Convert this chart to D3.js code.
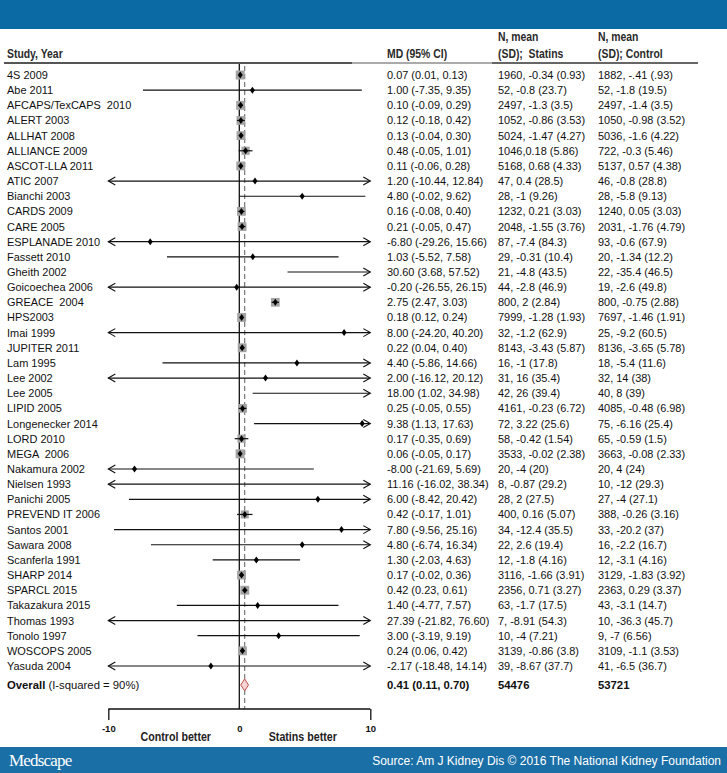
<!DOCTYPE html>
<html><head><meta charset="utf-8">
<script src="https://cdn.jsdelivr.net/npm/d3@7"></script>
<style>body{margin:0;background:#fff}text{white-space:pre}</style>
</head><body><svg id="c" width="727" height="773"></svg>
<script>
const studies = ["4S 2009","Abe 2011","AFCAPS/TexCAPS  2010","ALERT 2003","ALLHAT 2008","ALLIANCE 2009","ASCOT-LLA 2011","ATIC 2007","Bianchi 2003","CARDS 2009","CARE 2005","ESPLANADE 2010","Fassett 2010","Gheith 2002","Goicoechea 2006","GREACE  2004","HPS2003","Imai 1999","JUPITER 2011","Lam 1995","Lee 2002","Lee 2005","LIPID 2005","Longenecker 2014","LORD 2010","MEGA  2006","Nakamura 2002","Nielsen 1993","Panichi 2005","PREVEND IT 2006","Santos 2001","Sawara 2008","Scanferla 1991","SHARP 2014","SPARCL 2015","Takazakura 2015","Thomas 1993","Tonolo 1997","WOSCOPS 2005","Yasuda 2004"];
const md = [0.07,1.00,0.10,0.12,0.13,0.48,0.11,1.20,4.80,0.16,0.21,-6.80,1.03,30.60,-0.20,2.75,0.18,8.00,0.22,4.40,2.00,18.00,0.25,9.38,0.17,0.06,-8.00,11.16,6.00,0.42,7.80,4.80,1.30,0.17,0.42,1.40,27.39,3.00,0.24,-2.17];
const lo = [0.01,-7.35,-0.09,-0.18,-0.04,-0.05,-0.06,-10.44,-0.02,-0.08,-0.05,-29.26,-5.52,3.68,-26.55,2.47,0.12,-24.20,0.04,-5.86,-16.12,1.02,-0.05,1.13,-0.35,-0.05,-21.69,-16.02,-8.42,-0.17,-9.56,-6.74,-2.03,-0.02,0.23,-4.77,-21.82,-3.19,0.06,-18.48];
const hi = [0.13,9.35,0.29,0.42,0.30,1.01,0.28,12.84,9.62,0.40,0.47,15.66,7.58,57.52,26.15,3.03,0.24,40.20,0.40,14.66,20.12,34.98,0.55,17.63,0.69,0.17,5.69,38.34,20.42,1.01,25.16,16.34,4.63,0.36,0.61,7.57,76.60,9.19,0.42,14.14];
const statins = ["1960, -0.34 (0.93)","52, -0.8 (23.7)","2497, -1.3 (3.5)","1052, -0.86 (3.53)","5024, -1.47 (4.27)","1046,0.18 (5.86)","5168, 0.68 (4.33)","47, 0.4 (28.5)","28, -1 (9.26)","1232, 0.21 (3.03)","2048, -1.55 (3.76)","87, -7.4 (84.3)","29, -0.31 (10.4)","21, -4.8 (43.5)","44, -2.8 (46.9)","800, 2 (2.84)","7999, -1.28 (1.93)","32, -1.2 (62.9)","8143, -3.43 (5.87)","16, -1 (17.8)","31, 16 (35.4)","42, 26 (39.4)","4161, -0.23 (6.72)","72, 3.22 (25.6)","58, -0.42 (1.54)","3533, -0.02 (2.38)","20, -4 (20)","8, -0.87 (29.2)","28, 2 (27.5)","400, 0.16 (5.07)","34, -12.4 (35.5)","22, 2.6 (19.4)","12, -1.8 (4.16)","3116, -1.66 (3.91)","2356, 0.71 (3.27)","63, -1.7 (17.5)","7, -8.91 (54.3)","10, -4 (7.21)","3139, -0.86 (3.8)","39, -8.67 (37.7)"];
const control = ["1882, -.41 (.93)","52, -1.8 (19.5)","2497, -1.4 (3.5)","1050, -0.98 (3.52)","5036, -1.6 (4.22)","722, -0.3 (5.46)","5137, 0.57 (4.38)","46, -0.8 (28.8)","28, -5.8 (9.13)","1240, 0.05 (3.03)","2031, -1.76 (4.79)","93, -0.6 (67.9)","20, -1.34 (12.2)","22, -35.4 (46.5)","19, -2.6 (49.8)","800, -0.75 (2.88)","7697, -1.46 (1.91)","25, -9.2 (60.5)","8136, -3.65 (5.78)","18, -5.4 (11.6)","32, 14 (38)","40, 8 (39)","4085, -0.48 (6.98)","75, -6.16 (25.4)","65, -0.59 (1.5)","3663, -0.08 (2.33)","20, 4 (24)","10, -12 (29.3)","27, -4 (27.1)","388, -0.26 (3.16)","33, -20.2 (37)","16, -2.2 (16.7)","12, -3.1 (4.16)","3129, -1.83 (3.92)","2363, 0.29 (3.37)","43, -3.1 (14.7)","10, -36.3 (45.7)","9, -7 (6.56)","3109, -1.1 (3.53)","41, -6.5 (36.7)"];
const weights = [5.9,0.04,5.8,5.6,5.8,4.9,5.8,0.02,0.11,5.7,5.7,0.005,0.2,0.003,0.004,5.6,5.9,0.002,5.8,0.08,0.008,0.01,5.6,0.04,4.9,5.9,0.05,0.003,0.05,4.7,0.03,0.07,0.8,5.8,5.8,0.25,0.0003,0.27,5.8,0.01];
const overall = {label:"Overall", het:" (I-squared = 90%)", md:0.41, lo:0.11, hi:0.70, nStat:"54476", nCtrl:"53721"};
const axisTicks = [-10, 0, 10];
const axisLabels = ["Control better", "Statins better"];

const svg = d3.select("#c");
const FONT = "'Liberation Sans', Arial, sans-serif";
const NARROW = "'Liberation Sans Narrow', 'Arial Narrow', 'Liberation Sans', sans-serif";

// condense text horizontally (narrow bold look)
function condense(sel, f) {
  sel.each(function() {
    const w = this.getComputedTextLength();
    d3.select(this).attr("textLength", w * f).attr("lengthAdjust", "spacingAndGlyphs");
  });
  return sel;
}

// banners
svg.append("rect").attr("x",0).attr("y",0).attr("width",727).attr("height",29).attr("fill","#0b69a4");
svg.append("rect").attr("x",0).attr("y",747).attr("width",727).attr("height",26).attr("fill","#1b6fa7");
svg.append("text").attr("x",9).attr("y",766).attr("fill","#fff").attr("font-family","'Liberation Serif', serif").attr("font-size",17).attr("letter-spacing",-0.8).text("Medscape");
svg.append("text").attr("x",721).attr("y",765).attr("text-anchor","end").attr("fill","#fff").attr("font-family",FONT).attr("font-size",12).text("Source: Am J Kidney Dis \u00A9 2016 The National Kidney Foundation");

const x = d3.scaleLinear().domain([-10, 10]).range([108.3, 370.3]);
const y = d3.scaleLinear().domain([0, studies.length - 1]).range([75, 666]);
const yOverall = y(studies.length + 0.25);
const boxSize = d3.scaleSqrt().domain([0, 6]).range([0, 9]);

const colX = {label: 7, md: 387, stat: 498, ctrl: 598};

// header
const hdr = svg.append("g").attr("font-family", NARROW).attr("font-weight","bold").attr("font-size",13).attr("fill","#2a2a2a");
hdr.append("text").attr("x",colX.label).attr("y",58).text("Study, Year");
hdr.append("text").attr("x",colX.md).attr("y",58).text("MD (95% CI)");
hdr.append("text").attr("x",colX.stat).attr("y",41).text("N, mean");
hdr.append("text").attr("x",colX.stat).attr("y",58).text("(SD);  Statins");
hdr.append("text").attr("x",colX.ctrl).attr("y",41).text("N, mean");
hdr.append("text").attr("x",colX.ctrl).attr("y",58).text("(SD); Control");
condense(hdr.selectAll("text"), 0.8);
svg.append("line").attr("x1",4).attr("x2",352).attr("y1",63).attr("y2",63).attr("stroke","#555").attr("stroke-width",2);
svg.append("line").attr("x1",352).attr("x2",492).attr("y1",63).attr("y2",63).attr("stroke","#aaa").attr("stroke-width",2);
svg.append("line").attr("x1",492).attr("x2",698).attr("y1",63).attr("y2",63).attr("stroke","#666").attr("stroke-width",2);

const axisY = 709;
// reference lines
svg.append("line").attr("x1",x(0)).attr("x2",x(0)).attr("y1",64).attr("y2",axisY).attr("stroke","#111").attr("stroke-width",1.3);
svg.append("line").attr("x1",x(overall.md)).attr("x2",x(overall.md)).attr("y1",66).attr("y2",axisY).attr("stroke","#777").attr("stroke-width",1.2).attr("stroke-dasharray","5,3");

const rows = studies.map((s,i)=>({s, md:md[i], lo:lo[i], hi:hi[i], st:statins[i], ct:control[i], w:weights[i], i}));
const fmt = v => v.toFixed(2);

const g = svg.append("g");
const [dMin, dMax] = x.domain();
rows.forEach(r => {
  const yy = y(r.i);
  const x1 = x(Math.max(r.lo, dMin)), x2 = x(Math.min(r.hi, dMax));
  const bs = boxSize(r.w);
  if (bs > 2 && r.md >= dMin && r.md <= dMax) {
    g.append("rect").attr("x", x(r.md)-bs/2).attr("y", yy-bs/2).attr("width", bs).attr("height", bs).attr("fill","#a3a3a3");
  }
  g.append("line").attr("x1",x1).attr("x2",x2).attr("y1",yy).attr("y2",yy).attr("stroke","#111").attr("stroke-width",1.2);
  if (r.lo < dMin) g.append("polyline").attr("points",`${x1+7},${yy-4} ${x1},${yy} ${x1+7},${yy+4}`).attr("fill","none").attr("stroke","#111").attr("stroke-width",1.1);
  if (r.hi > dMax) g.append("polyline").attr("points",`${x2-7},${yy-4} ${x2},${yy} ${x2-7},${yy+4}`).attr("fill","none").attr("stroke","#111").attr("stroke-width",1.1);
  if (r.md >= dMin && r.md <= dMax) {
    const cx = x(r.md);
    g.append("path").attr("d",`M${cx},${yy-3.5}L${cx+2.5},${yy}L${cx},${yy+3.5}L${cx-2.5},${yy}Z`).attr("fill","#000");
  }
});

// overall diamond
g.append("path").attr("d",`M${x(overall.lo)},${yOverall}L${x(overall.md)},${yOverall-6}L${x(overall.hi)},${yOverall}L${x(overall.md)},${yOverall+6}Z`)
  .attr("fill","#f4d4d4").attr("stroke","#c0504d").attr("stroke-width",1);

// text columns
const t = svg.append("g").attr("font-family",FONT).attr("font-size",11.3).attr("fill","#111");
rows.forEach(r => {
  const yy = y(r.i) + 4;
  t.append("text").attr("x",colX.label).attr("y",yy).text(r.s);
  t.append("text").attr("x",colX.md).attr("y",yy).text(`${fmt(r.md)} (${fmt(r.lo)}, ${fmt(r.hi)})`);
  t.append("text").attr("x",colX.stat).attr("y",yy).text(r.st);
  t.append("text").attr("x",colX.ctrl).attr("y",yy).text(r.ct);
});
t.selectAll("text").each(function(){ const w=this.getComputedTextLength(); d3.select(this).attr("textLength", w*0.97).attr("lengthAdjust","spacingAndGlyphs"); });
const ot = t.append("text").attr("x",colX.label).attr("y",yOverall+4);
ot.append("tspan").attr("font-weight","bold").text(overall.label);
ot.append("tspan").text(overall.het);
t.append("text").attr("x",colX.md).attr("y",yOverall+4).attr("font-weight","bold").text(`${fmt(overall.md)} (${fmt(overall.lo)}, ${fmt(overall.hi)})`);
t.append("text").attr("x",colX.stat).attr("y",yOverall+4).attr("font-weight","bold").text(overall.nStat);
t.append("text").attr("x",colX.ctrl).attr("y",yOverall+4).attr("font-weight","bold").text(overall.nCtrl);

// axis
const ax = svg.append("g").attr("transform",`translate(0,${axisY})`)
  .call(d3.axisBottom(x).tickValues(axisTicks).tickSize(11).tickPadding(5).tickFormat(d=>String(d)));
ax.select(".domain").attr("stroke","#111").attr("stroke-width",1.3).attr("d",`M${x(-10)},0H${x(10)}`);
ax.selectAll(".tick line").attr("stroke","#111").attr("stroke-width",1.3).attr("opacity",d=>d===0?0:1);
ax.selectAll(".tick text").attr("font-family",NARROW).attr("font-size",9.5).attr("font-weight","bold").attr("fill","#111");
const al = svg.append("g").attr("font-family",NARROW).attr("font-weight","bold").attr("font-size",13).attr("fill","#222");
al.append("text").attr("x",(x(-10)+x(0))/2 + 2).attr("y",axisY+32).attr("text-anchor","middle").text(axisLabels[0]);
al.append("text").attr("x",(x(0)+x(10))/2 - 2).attr("y",axisY+32).attr("text-anchor","middle").text(axisLabels[1]);
condense(al.selectAll("text"), 0.82);
</script></body></html>
